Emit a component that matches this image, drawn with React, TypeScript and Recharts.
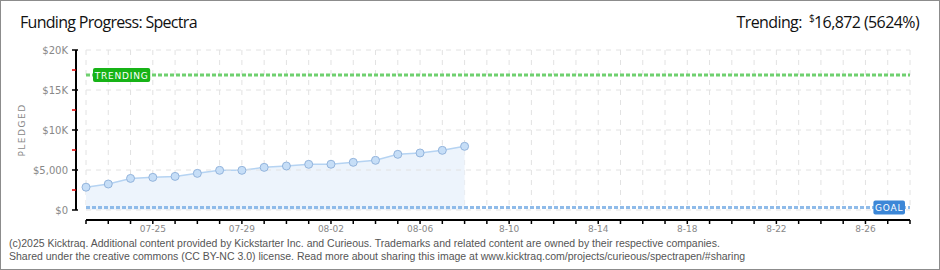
import { Area, AreaChart, CartesianGrid, ReferenceLine, XAxis, YAxis } from 'recharts';

const dates = [
    '07-22', '07-23', '07-24', '07-25', '07-26', '07-27', '07-28', '07-29', '07-30', '07-31',
    '08-01', '08-02', '08-03', '08-04', '08-05', '08-06', '08-07', '08-08', '08-09', '08-10',
    '08-11', '08-12', '08-13', '08-14', '08-15', '08-16', '08-17', '08-18', '08-19', '08-20',
    '08-21', '08-22', '08-23', '08-24', '08-25', '08-26', '08-27', '08-28',
];

// daily pledged total, 07-22 .. 08-08
const pledged = [
    2850, 3250, 3950, 4080, 4200, 4580, 4960, 4960, 5330,
    5500, 5710, 5720, 5960, 6210, 6960, 7130, 7460, 7960,
];

const labelDates = ['07-25', '07-29', '08-02', '08-06', '08-10', '08-14', '08-18', '08-22', '08-26'];
const labelTexts = ['07-25', '07-29', '08-02', '08-06', '8-10', '8-14', '8-18', '8-22', '8-26'];

const yMajorTicks = [0, 5000, 10000, 15000, 20000];
const yAllTicks = [0, 2500, 5000, 7500, 10000, 12500, 15000, 17500, 20000];

const goal = 300;
const trending = 16872;

const data = dates.map((d, i) => ({ date: d, pledged: i < pledged.length ? pledged[i] : null }));

const fmtMoney = (v: number) => (v >= 10000 ? `$${v / 1000}K` : `$${v.toLocaleString('en-US')}`);

const fmtDate = (d: string) => {
    const i = labelDates.indexOf(d);
    return i >= 0 ? labelTexts[i] : '';
};

const renderYTick = (props: any) => {
    const { x, y, payload } = props;
    const major = yMajorTicks.includes(payload.value);
    return (
        <g key={`yt-${payload.value}`}>
            <line
                x1={x + 4}
                x2={major ? x + 10 : x + 8}
                y1={y}
                y2={y}
                stroke={major ? '#000' : '#e00000'}
                strokeWidth={1.5}
            />
            {major && (
                <text x={x} y={y} dy={4} textAnchor="end" fontSize={10} fill="#888" fontFamily="DejaVu Sans">
                    {fmtMoney(payload.value)}
                </text>
            )}
        </g>
    );
};

const emptyTick = (props: any) => <g key={`e-${props.index}`} />;

const Badge = ({ viewBox, text, color, side }: any) => {
    const w = text.length * 6.4 + 6;
    const h = 14;
    const x = side === 'left' ? viewBox.x + 7 : viewBox.x + viewBox.width - w - 5;
    const y = viewBox.y - h / 2;
    return (
        <g>
            <rect x={x} y={y} width={w} height={h} rx={2} fill={color} />
            <text
                x={x + w / 2}
                y={y + 10.5}
                textAnchor="middle"
                fontSize={9}
                fill="#fff"
                fontFamily="DejaVu Sans"
                letterSpacing={0.8}
            >
                {text}
            </text>
        </g>
    );
};

const headStyle = {
    position: 'absolute' as const,
    top: 10,
    fontFamily: 'Open Sans',
    fontSize: 16,
    color: '#111',
    whiteSpace: 'nowrap' as const,
};

export default function App() {
    return (
        <div
            style={{
                position: 'absolute',
                left: 0,
                top: 0,
                width: 940,
                height: 270,
                boxSizing: 'border-box',
                border: '1px solid #8c8c8c',
                background: '#fff',
                overflow: 'hidden',
            }}
        >
            <div style={{ ...headStyle, left: 19, letterSpacing: -0.7 }}>Funding Progress: Spectra</div>
            <div style={{ ...headStyle, right: 20, letterSpacing: -0.6 }}>
                Trending:&nbsp; <sup style={{ fontSize: 10 }}>$</sup>
                {trending.toLocaleString('en-US')} ({Math.round((trending / goal) * 100)}%)
            </div>
            <div style={{ position: 'absolute', left: -1, top: -1 }}>
                <AreaChart width={940} height={270} data={data} margin={{ top: 50, right: 30, bottom: 0, left: 10 }}>
                    <CartesianGrid stroke="#e2e2e2" strokeDasharray="5 5" horizontal={false} yAxisId="b" />
                    <XAxis
                        dataKey="date"
                        xAxisId={0}
                        height={10}
                        interval={0}
                        axisLine={false}
                        tickLine={false}
                        tick={emptyTick}
                    />
                    <XAxis
                        dataKey="date"
                        xAxisId="labels"
                        height={50}
                        interval={0}
                        axisLine={{ stroke: '#000', strokeWidth: 2 }}
                        tickLine={{ stroke: '#000', strokeWidth: 1.5 }}
                        tickSize={4}
                        tickMargin={2}
                        tickFormatter={fmtDate}
                        tick={{ fontSize: 9, fill: '#888', fontFamily: 'DejaVu Sans' }}
                    />
                    <YAxis
                        yAxisId="a"
                        width={10}
                        domain={[0, 20000]}
                        axisLine={false}
                        tickLine={false}
                        tick={emptyTick}
                    />
                    <YAxis
                        yAxisId="b"
                        width={66}
                        domain={[0, 20000]}
                        ticks={yAllTicks}
                        interval={0}
                        axisLine={{ stroke: '#000', strokeWidth: 2 }}
                        tickLine={false}
                        tick={renderYTick}
                        label={{
                            value: 'PLEDGED',
                            angle: -90,
                            position: 'insideLeft',
                            offset: 12,
                            style: { fontSize: 9, fill: '#888', fontFamily: 'DejaVu Sans', letterSpacing: 1.5, textAnchor: 'middle' },
                        }}
                    />
                    {yMajorTicks.map((v) => (
                        <ReferenceLine key={v} yAxisId="b" y={v} stroke="#e2e2e2" strokeDasharray="5 5" />
                    ))}
                    <Area
                        yAxisId="b"
                        type="linear"
                        dataKey="pledged"
                        stroke="#b5d3f2"
                        strokeWidth={1.5}
                        fill="#edf4fc"
                        fillOpacity={1}
                        dot={{ r: 4, fill: '#c6def7', stroke: '#93b4dc', strokeWidth: 1, fillOpacity: 1 }}
                        isAnimationActive={false}
                    />
                    <ReferenceLine
                        yAxisId="b"
                        y={trending}
                        stroke="#6fd06f"
                        strokeWidth={3}
                        strokeDasharray="4 2"
                        label={<Badge text="TRENDING" color="#17b317" side="left" />}
                    />
                    <ReferenceLine
                        yAxisId="b"
                        y={goal}
                        stroke="#8fbbe9"
                        strokeWidth={3}
                        strokeDasharray="4 2"
                        label={<Badge text="GOAL" color="#3c87d7" side="right" />}
                    />
                </AreaChart>
            </div>
            <div
                style={{
                    position: 'absolute',
                    left: 8,
                    top: 236,
                    fontFamily: 'Liberation Sans',
                    fontSize: 10.5,
                    lineHeight: '13px',
                    color: '#555',
                    whiteSpace: 'nowrap',
                }}
            >
                (c)2025 Kicktraq. Additional content provided by Kickstarter Inc. and Curieous. Trademarks and related content are owned by their respective companies.
                <br />
                Shared under the creative commons (CC BY-NC 3.0) license. Read more about sharing this image at www.kicktraq.com/projects/curieous/spectrapen/#sharing
            </div>
        </div>
    );
}
